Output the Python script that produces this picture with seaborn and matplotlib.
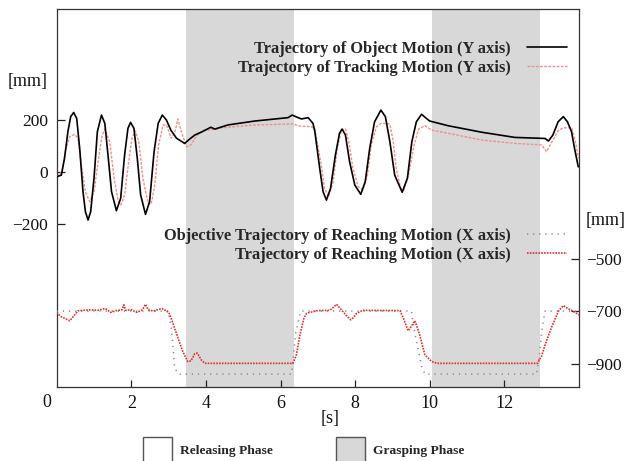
import numpy as np
import pandas as pd
import matplotlib
matplotlib.use('Agg')
import matplotlib.pyplot as plt
import seaborn as sns
from matplotlib.patches import Patch

sns.set_theme(style='ticks')
plt.rcParams['font.family'] = ['Liberation Serif', 'DejaVu Serif']

# ---------------- data ----------------
obj_y_t = [0.00, 0.125, 0.21, 0.30, 0.375, 0.456, 0.536, 0.616, 0.705, 0.77, 0.84, 0.91, 1.00,
           1.09, 1.20, 1.29, 1.375, 1.47, 1.60, 1.715, 1.82, 1.91, 1.98, 2.07, 2.16, 2.25,
           2.38, 2.49, 2.61, 2.72, 2.83, 2.94, 3.06, 3.21, 3.43, 3.55, 3.70, 3.90, 4.13,
           4.24, 4.59, 5.31, 6.20, 6.31, 6.42, 6.56, 6.74, 6.87, 6.92, 7.05, 7.14, 7.23,
           7.34, 7.47, 7.58, 7.65, 7.74, 7.85, 7.99, 8.15, 8.27, 8.39, 8.52, 8.69, 8.81,
           8.93, 9.06, 9.26, 9.40, 9.52, 9.64, 9.78, 9.91, 10.00, 10.49, 11.39, 12.28, 13.09,
           13.18, 13.30, 13.44, 13.58, 13.69, 13.80, 13.88, 13.98]
obj_y_v = [-18, -12, 53, 155, 213, 229, 206, 91, -76, -153, -185, -153, -24,
           155, 219, 187, 65, -76, -149, -101, 65, 168, 191, 168, 53, -88,
           -163, -114, 78, 187, 219, 200, 161, 130, 110, 125, 142, 155, 172,
           165, 181, 196, 209, 219, 212, 204, 209, 187, 155, 14, -76, -108,
           -63, 65, 149, 165, 142, 40, -50, -86, -37, 91, 193, 238, 213,
           117, -12, -78, -24, 117, 193, 222, 206, 196, 178, 153, 133, 129,
           119, 142, 193, 213, 193, 155, 91, 20]

trk_y_t = [0.00, 0.14, 0.23, 0.35, 0.48, 0.57, 0.66, 0.77, 0.885, 1.00, 1.11, 1.21, 1.29, 1.42,
           1.54, 1.64, 1.72, 1.82, 1.93, 2.02, 2.11, 2.20, 2.31, 2.45, 2.53, 2.63, 2.73, 2.85,
           2.94, 3.07, 3.16, 3.25, 3.34, 3.48, 3.60, 3.75, 3.95, 4.25, 4.42, 5.31, 6.34, 6.47,
           6.83, 6.92, 7.09, 7.18, 7.29, 7.41, 7.52, 7.63, 7.74, 7.83, 7.94, 8.08, 8.21, 8.33,
           8.43, 8.57, 8.69, 8.93, 9.02, 9.10, 9.22, 9.31, 9.43, 9.58, 9.70, 9.87, 10.05, 10.49,
           11.39, 12.28, 13.00, 13.13, 13.25, 13.45, 13.58, 13.80, 13.90, 13.98]
trk_y_v = [-18, 1, 78, 136, 145, 130, 27, -76, -114, -76, 40, 136, 165, 117,
           -24, -108, -127, -88, 40, 130, 158, 117, -24, -121, -124, -50, 104, 181,
           181, 130, 149, 204, 155, 97, 105, 140, 160, 165, 170, 181, 185, 177,
           174, 165, 27, -63, -95, -37, 91, 161, 165, 117, 14, -56, -69, -12,
           104, 174, 187, 185, 117, 14, -63, -69, -12, 104, 165, 178, 161, 149,
           123, 110, 104, 78, 110, 160, 170, 170, 120, 53]

reach_x_t = [0.00, 0.10, 0.25, 0.35, 0.45, 0.57, 0.70, 0.90, 1.10, 1.30, 1.45, 1.60, 1.75, 1.80,
             1.85, 2.00, 2.15, 2.30, 2.38, 2.45, 2.60, 2.70, 2.82, 2.95, 3.01, 3.10, 3.16, 3.27,
             3.38, 3.51, 3.60, 3.70, 3.77, 3.87, 3.97, 6.33, 6.42, 6.52, 6.62, 6.70, 6.99, 7.32,
             7.42, 7.50, 7.60, 7.75, 7.88, 7.95, 8.03, 8.20, 9.20, 9.30, 9.42, 9.52, 9.60, 9.66,
             9.73, 9.87, 10.05, 10.20, 12.89, 13.00, 13.09, 13.20, 13.31, 13.45, 13.58, 13.70,
             13.80, 13.90, 14.00]
reach_x_v = [-705, -720, -730, -737, -720, -699, -697, -695, -697, -690, -705, -698, -695, -676,
             -697, -695, -705, -695, -674, -695, -700, -695, -690, -700, -706, -740, -765, -810,
             -854, -892, -890, -862, -860, -885, -899, -899, -870, -791, -730, -708, -698, -697,
             -685, -674, -690, -715, -733, -725, -710, -697, -698, -730, -775, -755, -737, -760,
             -791, -867, -892, -899, -899, -870, -829, -785, -746, -700, -679, -690,
             -697, -705, -715]

objv_x_t = [0.00, 2.99, 3.07, 3.12, 3.16, 3.26, 6.29, 6.33, 6.40, 6.54, 9.51, 9.58, 9.69, 9.78,
            9.87, 12.86, 12.93, 13.00, 13.09, 14.00]
objv_x_v = [-700, -700, -764, -840, -916, -940, -940, -890, -788, -700, -700, -770, -846, -910,
            -940, -940, -880, -779, -700, -700]

grasp_start = [3.46, 10.06]
grasp_end = [6.36, 12.96]

x_ticks = [2, 4, 6, 8, 10, 12]
left_ticks = [-200, 0, 200]
right_ticks = [-900, -700, -500]

labels_top = ['Trajectory of Object Motion (Y axis)', 'Trajectory of Tracking Motion (Y axis)']
labels_bot = ['Objective Trajectory of Reaching Motion (X axis)', 'Trajectory of Reaching Motion (X axis)']
labels_phase = ['Releasing Phase', 'Grasping Phase']

def fmt(v):
    return str(v).replace('-', '\u2212')

df_obj = pd.DataFrame({'t': obj_y_t, 'v': obj_y_v})
df_trk = pd.DataFrame({'t': trk_y_t, 'v': trk_y_v})
df_reach = pd.DataFrame({'t': reach_x_t, 'v': reach_x_v})
df_objv = pd.DataFrame({'t': objv_x_t, 'v': objv_x_v})

# ---------------- figure ----------------
fig = plt.figure(figsize=(6.26, 4.61), dpi=100)
ax = fig.add_axes([56.7 / 626, (461 - 386.7) / 461, 522.3 / 626, 377.7 / 461])
ax2 = ax.twinx()

grey = '#d8d8d8'
for s, e in zip(grasp_start, grasp_end):
    ax.axvspan(s, e, color=grey, lw=0, zorder=0)

sns.lineplot(data=df_trk, x='t', y='v', ax=ax, sort=False, estimator=None,
             color='#f09090', lw=1.0, linestyle=(0, (2, 1)), zorder=3)
sns.lineplot(data=df_obj, x='t', y='v', ax=ax, sort=False, estimator=None,
             color='black', lw=1.2, zorder=4)
sns.lineplot(data=df_objv, x='t', y='v', ax=ax2, sort=False, estimator=None,
             color='#8a8a8a', lw=1.1, linestyle=(0, (0.8, 3.2)), zorder=3)
sns.lineplot(data=df_reach, x='t', y='v', ax=ax2, sort=False, estimator=None,
             color='#e23030', lw=1.2, linestyle=(0, (1, 0.7)), zorder=4)

l_trk, l_obj = ax.lines[0], ax.lines[1]
l_objv, l_reach = ax2.lines[0], ax2.lines[1]
for ln in (l_trk, l_obj, l_objv, l_reach):
    ln.set_solid_joinstyle('round')
    ln.set_dash_joinstyle('round')

ax.set_xlim(0, 14)
ax.set_ylim(-826, 627)
ax2.set_ylim(-988, 451)

ax.set_xticks(x_ticks)
ax.set_xticklabels([str(v) for v in x_ticks])
ax.set_yticks(left_ticks)
ax.set_yticklabels([fmt(v) for v in left_ticks])
ax2.set_yticks(right_ticks)
ax2.set_yticklabels([fmt(v) for v in right_ticks])
ax.set_xlabel('')
ax.set_ylabel('')
ax2.set_ylabel('')

spc = '#333333'
for a in (ax, ax2):
    for sp in a.spines.values():
        sp.set_color(spc)
        sp.set_linewidth(0.9)
ax2.spines['left'].set_visible(False)
ax2.spines['top'].set_visible(False)
ax2.spines['bottom'].set_visible(False)
ax.spines['right'].set_visible(False)

ax.tick_params(axis='x', direction='in', length=5, width=0.9, color='#222', labelsize=13, pad=6,
               top=False, bottom=True)
ax.tick_params(axis='y', direction='in', length=6, width=0.9, color='#222', labelsize=12.5, pad=6,
               left=True, right=False)
ax2.tick_params(axis='y', direction='in', length=6, width=0.9, color='#222', labelsize=12.5, pad=5,
                right=True, left=False)
for t in ax.get_xticklabels() + ax.get_yticklabels() + ax2.get_yticklabels():
    t.set_color('#111')

# x "0" label offset to the left like the original
ax.text(-0.27, -0.043, '0', transform=ax.get_xaxis_transform(), ha='center', va='center',
        fontsize=13, color='#111')

# axis unit labels
fig.text(28 / 626, 1 - 81.7 / 461, '[mm]', ha='center', va='center', fontsize=13, color='#111')
fig.text(586 / 626, 1 - 221 / 461, '[mm]', ha='left', va='center', fontsize=13, color='#111')
fig.text(330 / 626, 1 - 419 / 461, '[s]', ha='center', va='center', fontsize=13, color='#111')

legprop = dict(family='Liberation Serif', weight='bold', size=11.8)
legkw = dict(frameon=False, markerfirst=False, prop=legprop, handlelength=2.45,
             handletextpad=1.0, labelspacing=0.17, borderpad=0, borderaxespad=0)
leg1 = ax.legend(handles=[l_obj, l_trk], labels=labels_top, loc='upper right',
                 bbox_to_anchor=(0.977, 0.915), **legkw)
leg2 = ax2.legend(handles=[l_objv, l_reach], labels=labels_bot, loc='upper right',
                  bbox_to_anchor=(0.977, 0.42), **legkw)
for lg in (leg1, leg2):
    for vp in lg._legend_handle_box.get_children():
        vp.align = 'right'

phase_handles = [Patch(facecolor='white', edgecolor='#555555', lw=1.0),
                 Patch(facecolor=grey, edgecolor='#555555', lw=1.0)]
fig.legend(handles=phase_handles, labels=labels_phase, ncol=2, loc='upper left',
           bbox_to_anchor=(143 / 626, 1 - 437 / 461), frameon=False,
           prop=dict(family='Liberation Serif', weight='bold', size=9.7),
           handlelength=2.15, handleheight=2.6, handletextpad=0.6, columnspacing=4.7,
           borderpad=0, borderaxespad=0)

fig.savefig('out.png', dpi=100)
